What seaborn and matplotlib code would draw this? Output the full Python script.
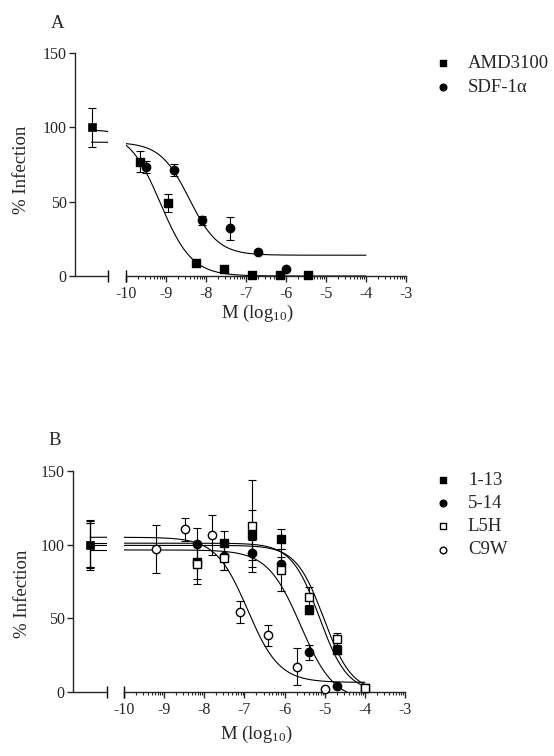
import numpy as np
import matplotlib
matplotlib.use("Agg")
import matplotlib.pyplot as plt
import seaborn as sns

sns.set_style("ticks")
plt.rcParams["font.family"] = ["Liberation Serif", "DejaVu Serif"]
plt.rcParams["mathtext.default"] = "regular"
plt.rcParams["axes.unicode_minus"] = False

# ---- panel A data (x = log10 M, y = % infection) ----
ctrl_a_y = [100]
ctrl_a_err = [13]

amd_x = [-9.66, -8.96, -8.26, -7.56, -6.86, -6.16, -5.46]
amd_y = [77, 49, 9, 5, 0.5, 0.5, 0.5]
amd_err = [7, 6, 0, 0, 0, 0, 0]

sdf_x = [-9.5, -8.8, -8.1, -7.4, -6.7, -6.0]
sdf_y = [73.5, 71.3, 37.4, 32, 16, 4.5]
sdf_err = [4, 4, 3, 8, 0, 0]

# fitted sigmoid parameters: top, bottom, logEC50, hill
amd_fit = [98, 0, -9.14, 1.1]
sdf_fit = [90, 14, -8.42, 1.2]

# ---- panel B data ----
ctrl_b_y = [100, 100, 100, 100]
ctrl_b_err = [15, 17, 16, 15]

b_x = [-8.19, -7.50, -6.80, -6.10, -5.40, -4.70, -4.00]
p113_y = [88.5, 101, 106.6, 103.8, 55.7, 28.5, 2.5]
p113_err = [12, 8, 17, 7, 3, 3, 0]
p514_x = [-8.19, -7.50, -6.80, -6.10, -5.40, -4.70]
p514_y = [100.4, 92, 94, 86.7, 27, 4]
p514_err = [11, 9, 9, 5, 5, 0]
l5h_y = [87, 91, 112.7, 82.8, 64.3, 35.8, 2.5]
l5h_err = [14, 8, 31, 14, 7, 4, 0]
c9w_x = [-9.19, -8.49, -7.80, -7.10, -6.40, -5.69, -4.99]
c9w_y = [97, 110.4, 106.8, 54.3, 38.5, 17.2, 2]
c9w_err = [16.5, 8, 13.5, 7.5, 7, 12.6, 0]

p113_fit = [101, 0, -5.13, 1.25]
p514_fit = [96.4, -6, -5.6, 1.05]
l5h_fit = [99.5, 0, -5.02, 1.25]
c9w_fit = [105, 6.5, -6.92, 1.1]

CTRL_X = -12  # position of the no-drug control on the left axis piece


def sigmoid(x, p):
    top, bottom, ec50, hill = p
    return bottom + (top - bottom) / (1 + 10 ** ((x - ec50) * hill))


def make_panel(fig, rect_l, rect_r):
    axl = fig.add_axes(rect_l)
    axr = fig.add_axes(rect_r)
    for ax in (axl, axr):
        ax.set_ylim(0, 150)
        ax.set_facecolor("none")
        ax.spines[["top", "right"]].set_visible(False)
        for s in ax.spines.values():
            s.set_linewidth(1.0)
    axl.set_xlim(-13, -11)
    axl.set_xticks([])
    axl.set_yticks([0, 50, 100, 150])
    axl.tick_params(axis="y", length=4, width=1.0, pad=2, labelsize=11.5)
    axr.spines["left"].set_visible(False)
    axr.tick_params(axis="y", left=False, labelleft=False)
    axr.set_xlim(-10, -3)
    axr.set_xticks(range(-10, -2))
    axr.set_xticks([d + np.log10(k) for d in range(-10, -3) for k in range(2, 10)],
                   minor=True)
    axr.tick_params(axis="x", which="major", length=4, width=1.0, pad=3, labelsize=11.5)
    axr.tick_params(axis="x", which="minor", length=2.5, width=0.8)
    # break caps
    axl.plot([1], [0], marker="|", ms=9, mew=1.0, color="k",
             transform=axl.transAxes, clip_on=False)
    axr.plot([0], [0], marker="|", ms=9, mew=1.0, color="k",
             transform=axr.transAxes, clip_on=False)
    return axl, axr


def draw_series(axl, axr, x, y, err, ctrl_y, ctrl_err, fit, marker, filled, label):
    fc = "black" if filled else "white"
    xs = np.linspace(-10, -4, 300)
    sns.lineplot(x=xs, y=sigmoid(xs, fit), ax=axr, color="black", linewidth=0.8,
                 estimator=None, sort=False, legend=False)
    xl = np.linspace(CTRL_X, -11, 30)
    sns.lineplot(x=xl, y=sigmoid(xl, fit), ax=axl, color="black", linewidth=0.8,
                 estimator=None, sort=False, legend=False)
    x = np.asarray(x)
    y = np.asarray(y)
    err = np.asarray(err, dtype=float)
    m = err > 0
    axr.errorbar(x[m], y[m], yerr=err[m], fmt="none", ecolor="black",
                 elinewidth=0.8, capsize=3, capthick=0.8, clip_on=False, zorder=2)
    sns.scatterplot(x=x, y=y, ax=axr, marker=marker, s=36, facecolor=fc,
                    edgecolor="black", linewidth=1.0, clip_on=False, zorder=3,
                    label=label)
    if ctrl_err is not None:
        axl.errorbar([CTRL_X], ctrl_y, yerr=ctrl_err, fmt="none", ecolor="black",
                     elinewidth=0.8, capsize=3, capthick=0.8, clip_on=False, zorder=2)


fig = plt.figure(figsize=(5.54, 7.56), dpi=100)

# ---- panel A ----
axl, axr = make_panel(fig, [0.1354, 0.6349, 0.0596, 0.2950],
                      [0.2274, 0.6349, 0.5054, 0.2950])
draw_series(axl, axr, amd_x, amd_y, amd_err, ctrl_a_y, ctrl_a_err, amd_fit,
            "s", True, "AMD3100")
draw_series(axl, axr, sdf_x, sdf_y, sdf_err, ctrl_a_y, None, sdf_fit,
            "o", True, "SDF-1α")
sns.scatterplot(x=[CTRL_X], y=ctrl_a_y, ax=axl, marker="s", s=36, color="black",
                edgecolor="black", clip_on=False, zorder=3)
h, l = axr.get_legend_handles_labels()
axr.legend(h, l, loc="upper left", bbox_to_anchor=(0.782, 0.928),
           bbox_transform=fig.transFigure, frameon=False, fontsize=13.5,
           handlelength=1.0, handletextpad=0.85, labelspacing=0.38,
           borderpad=0, borderaxespad=0, markerscale=0.8)
fig.text(0.104, 0.969, "A", fontsize=13.5, ha="center", va="center")
fig.text(0.038, 0.775, "% Infection", rotation=90, fontsize=13.5,
         ha="center", va="center")
fig.text(0.464, 0.586, "M (log$_{10}$)", fontsize=13.5, ha="center", va="center")

# ---- panel B ----
axl, axr = make_panel(fig, [0.1318, 0.0847, 0.0614, 0.2923],
                      [0.2238, 0.0847, 0.5072, 0.2923])
draw_series(axl, axr, b_x, p113_y, p113_err, [ctrl_b_y[0]], [ctrl_b_err[0]],
            p113_fit, "s", True, "1-13")
draw_series(axl, axr, p514_x, p514_y, p514_err, [ctrl_b_y[1]], [ctrl_b_err[1]],
            p514_fit, "o", True, "5-14")
draw_series(axl, axr, b_x, l5h_y, l5h_err, [ctrl_b_y[2]], [ctrl_b_err[2]],
            l5h_fit, "s", False, "L5H")
draw_series(axl, axr, c9w_x, c9w_y, c9w_err, [ctrl_b_y[3]], [ctrl_b_err[3]],
            c9w_fit, "o", False, "C9W")
sns.scatterplot(x=[CTRL_X], y=[ctrl_b_y[0]], ax=axl, marker="s", s=36,
                color="black", edgecolor="black", clip_on=False, zorder=3)
h, l = axr.get_legend_handles_labels()
axr.legend(h, l, loc="upper left", bbox_to_anchor=(0.782, 0.3757),
           bbox_transform=fig.transFigure, frameon=False, fontsize=13.5,
           handlelength=1.0, handletextpad=0.85, labelspacing=0.32,
           borderpad=0, borderaxespad=0, markerscale=0.8)
fig.text(0.099, 0.4167, "B", fontsize=13.5, ha="center", va="center")
fig.text(0.040, 0.215, "% Infection", rotation=90, fontsize=13.5,
         ha="center", va="center")
fig.text(0.462, 0.028, "M (log$_{10}$)", fontsize=13.5, ha="center", va="center")

fig.savefig("out.png", dpi=100)
